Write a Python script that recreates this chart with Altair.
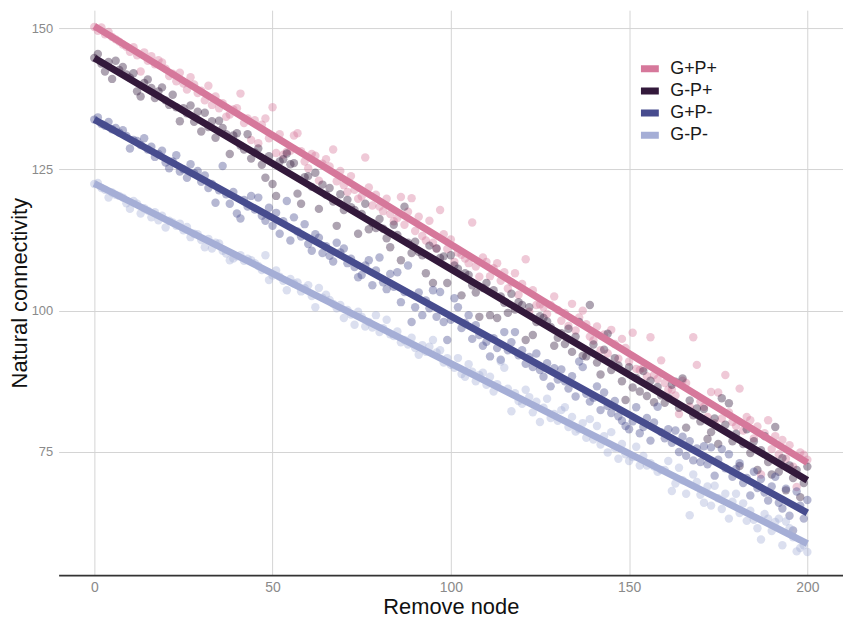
import altair as alt
import pandas as pd

groups = ["G+P+", "G-P+", "G+P-", "G-P-"]
colors = ["#D6789B", "#33193B", "#474C8E", "#A5AED6"]
x_vals = list(range(0, 201))
x_ticks = [0, 50, 100, 150, 200]
y_ticks = [75, 100, 125, 150]

gpp = [
    150.2, 149.5, 150.1, 148.9, 149.3, 148.4, 148.0, 147.6, 147.1, 146.7,
    145.8, 146.6, 145.2, 142.3, 145.7, 144.2, 145.0, 143.6, 144.3, 143.9,
    142.8, 141.5, 141.9, 140.6, 142.1, 140.2, 139.1, 141.3, 140.0, 138.5,
    138.9, 137.2, 139.8, 136.4, 137.9, 135.8, 136.7, 134.3, 134.7, 135.6,
    135.8, 138.4, 133.2, 134.0, 130.2, 133.7, 129.6, 132.9, 134.0, 130.5,
    136.0, 127.9, 131.2, 127.6, 128.1, 128.3, 131.0, 131.4, 128.2, 126.4,
    125.2, 127.7, 127.4, 123.0, 126.0, 126.8, 125.5, 128.5, 122.9, 124.7,
    122.2, 121.0, 123.8, 121.4, 119.8, 120.2, 127.1, 121.8, 118.6, 120.5,
    118.4, 117.6, 119.8, 117.1, 115.8, 116.4, 120.1, 115.2, 117.5, 119.9,
    114.1, 116.6, 113.2, 112.4, 115.9, 112.0, 111.0, 117.8, 113.5, 110.9,
    112.6, 108.6, 110.3, 109.9, 109.2, 108.4, 115.6, 107.8, 106.0, 109.4,
    108.6, 106.1, 107.5, 108.4, 105.3, 106.8, 103.9, 105.0, 106.6, 102.8,
    104.7, 109.1, 99.8, 103.6, 101.0, 101.1, 100.6, 99.4, 101.0, 102.5,
    100.1, 98.2, 99.6, 97.3, 101.2, 96.5, 98.8, 100.0, 97.6, 95.4,
    94.7, 97.2, 93.0, 95.8, 92.4, 96.6, 94.1, 91.5, 95.0, 93.4,
    91.0, 96.1, 89.7, 89.5, 89.8, 88.4, 95.3, 88.6, 87.9, 91.2,
    87.2, 86.0, 86.0, 85.0, 81.7, 87.6, 87.2, 83.0, 95.3, 90.4,
    83.9, 83.0, 81.2, 85.6, 80.1, 85.5, 80.9, 88.6, 82.0, 80.3,
    79.6, 86.2, 78.8, 81.2, 80.6, 77.4, 79.5, 71.0, 78.3, 80.6,
    75.5, 77.8, 74.6, 77.1, 73.8, 76.2, 72.4, 68.8, 74.9, 74.5,
    73.6,
]

gmp = [
    144.7, 145.4, 143.7, 142.3, 144.0, 141.0, 144.2, 142.6, 143.1, 141.8,
    141.2, 142.0, 138.8, 137.9, 140.3, 140.9, 139.4, 137.6, 138.8, 139.5,
    137.2, 136.4, 138.2, 136.0, 133.5, 135.8, 134.9, 136.3, 133.4, 135.2,
    131.7, 135.0, 132.5, 133.5, 130.6, 133.6, 132.3, 131.2, 127.7, 131.0,
    131.4, 129.2, 128.5, 131.2, 126.9, 128.0, 128.7, 125.8, 123.5, 127.3,
    122.4, 120.3, 126.4, 126.8, 127.8, 125.9, 126.1, 120.7, 118.9, 123.6,
    123.8, 121.9, 124.4, 118.0, 122.3, 120.5, 121.7, 119.3, 115.0, 120.6,
    117.8, 119.6, 118.3, 117.8, 113.6, 117.1, 118.9, 114.4, 115.5, 114.6,
    116.2, 114.5, 112.8, 111.2, 115.2, 113.4, 108.9, 118.4, 112.0, 110.2,
    112.2, 110.4, 109.8, 106.6, 111.5, 104.9, 111.0, 109.3, 109.6, 104.9,
    109.8, 108.0, 107.4, 102.7, 106.6, 106.3, 104.5, 103.2, 98.9, 104.0,
    104.9, 99.2, 103.6, 98.7, 102.5, 101.4, 99.6, 103.0, 100.2, 101.5,
    101.0, 94.8, 100.6, 95.7, 98.0, 99.0, 98.7, 98.1, 97.1, 93.8,
    95.2, 96.0, 94.1, 96.8, 92.7, 95.4, 98.0, 92.0, 91.9, 101.0,
    94.0, 90.8, 88.7, 93.1, 95.9, 89.5, 91.6, 90.3, 87.5, 84.2,
    90.0, 86.4, 88.1, 85.7, 89.3, 84.9, 87.6, 83.8, 86.5, 85.0,
    83.7, 84.6, 86.9, 87.4, 82.8, 88.0, 79.3, 84.1, 81.5, 82.7,
    80.4, 82.6, 77.3, 78.5, 80.9, 76.4, 84.5, 79.8, 83.6, 76.9,
    78.2, 72.5, 76.4, 79.0, 74.8, 76.9, 71.8, 75.3, 77.8, 73.2,
    71.0, 79.4, 71.5, 73.9, 68.2, 72.6, 70.4, 71.8, 67.0, 69.5,
    72.4,
]

gpm = [
    133.8, 134.2, 133.0, 132.7, 133.4, 132.1, 132.3, 131.5, 131.9, 130.9,
    128.7, 130.2, 130.0, 129.3, 130.5, 128.5, 129.0, 127.2, 127.7, 128.3,
    126.2, 125.2, 126.4, 127.5, 124.6, 125.0, 123.5, 125.9, 124.3, 124.7,
    122.8, 123.9, 121.7, 122.4, 119.1, 121.3, 125.6, 120.6, 118.9, 121.0,
    117.2, 116.3, 119.6, 118.4, 120.3, 117.9, 120.0, 116.8, 115.9, 118.2,
    115.0, 117.3, 113.6, 115.8, 119.4, 112.4, 116.5, 114.0, 113.1, 115.3,
    111.8, 110.6, 113.5, 112.9, 110.2, 111.4, 109.7, 108.7, 112.0, 110.3,
    111.0, 108.4, 109.2, 107.7, 105.9, 106.3, 108.0, 108.9, 104.5, 107.1,
    109.4, 105.0, 103.8, 106.5, 104.2, 106.8, 101.5, 103.3, 108.0, 98.0,
    100.6, 103.2, 99.2, 101.8, 100.4, 103.6, 98.9, 103.3, 98.0, 94.8,
    98.4, 102.2, 100.6, 96.9, 97.8, 99.2, 95.0, 97.4, 95.7, 93.8,
    94.5, 91.9, 95.1, 93.4, 91.3, 96.2, 93.0, 94.4, 96.2, 92.1,
    93.0, 90.6, 91.8, 90.0, 92.4, 89.5, 88.3, 90.7, 86.6, 89.8,
    87.8, 89.6, 87.5, 86.2, 88.4, 84.8, 91.0, 90.0, 85.3, 83.9,
    84.6, 86.6, 82.4, 85.5, 83.1, 81.9, 84.0, 81.3, 80.5, 79.6,
    79.0, 80.4, 82.9, 78.3, 79.4, 81.0, 77.0, 80.2, 83.0, 78.5,
    77.4, 79.0, 76.6, 78.8, 75.0, 77.7, 74.3, 76.9, 73.5, 75.6,
    73.2, 76.0, 72.8, 75.8, 70.8, 73.6, 75.5, 72.1, 74.6, 70.6,
    72.0, 73.0, 69.5, 70.4, 67.3, 71.5, 68.6, 70.2, 67.8, 66.4,
    68.9, 70.6, 66.0, 65.0, 68.5, 63.7, 61.1, 68.0, 65.5, 63.2,
    66.5,
]

gmm = [
    122.4, 122.6, 121.7, 121.4, 120.0, 120.9, 120.5, 120.3, 120.0, 119.0,
    118.0, 119.4, 118.9, 117.2, 118.1, 117.7, 116.5, 117.4, 116.0, 116.8,
    114.7, 115.9, 115.6, 115.0, 115.4, 114.2, 114.8, 113.0, 113.6, 113.5,
    112.5, 111.2, 112.7, 111.0, 112.0, 111.9, 110.6, 110.1, 108.9, 109.2,
    109.6, 109.8, 108.8, 109.2, 108.9, 108.4, 107.9, 107.2, 109.8, 105.4,
    106.2, 107.1, 106.0, 105.3, 103.6, 105.6, 104.8, 105.0, 103.4, 104.0,
    104.5, 102.6, 100.6, 104.0, 102.3, 102.8, 101.9, 101.2, 100.4, 101.0,
    98.7, 100.1, 99.3, 97.5, 99.8, 98.9, 97.2, 98.0, 97.0, 99.2,
    96.2, 96.9, 98.4, 95.8, 95.5, 96.3, 94.4, 94.8, 94.0, 95.2,
    93.4, 92.2, 93.9, 92.7, 93.6, 94.8, 92.6, 93.0, 90.8, 91.6,
    90.4, 89.9, 91.6, 88.8, 88.3, 90.5, 89.2, 87.5, 88.6, 89.0,
    86.9, 88.3, 85.7, 87.0, 91.0, 89.9, 86.2, 82.2, 85.4, 84.0,
    83.5, 86.0, 84.7, 82.0, 83.9, 80.3, 82.8, 84.4, 81.0, 81.7,
    80.5, 82.4, 82.9, 79.4, 81.2, 78.6, 79.0, 80.1, 77.5, 80.8,
    77.2, 79.6, 76.3, 77.8, 74.9, 78.5, 75.7, 73.8, 76.4, 74.6,
    73.4, 74.1, 75.9, 72.6, 74.3, 72.6, 73.0, 72.4, 71.5, 71.8,
    71.8, 73.4, 68.1, 69.4, 72.2, 70.0, 67.6, 63.8, 71.0, 69.7,
    67.4, 66.0, 68.9, 65.5, 69.0, 66.8, 64.9, 67.6, 63.2, 66.2,
    67.6, 64.2, 65.9, 62.8, 64.6, 63.0, 61.5, 59.5, 64.0, 63.2,
    61.0, 62.6, 63.2, 58.5, 62.7, 61.5, 59.9, 57.4, 58.0, 58.5,
    57.3,
]

series = {"G+P+": gpp, "G-P+": gmp, "G+P-": gpm, "G-P-": gmm}
rows = []
for g in groups:
    for xv, yv in zip(x_vals, series[g]):
        rows.append({"node": xv, "conn": yv, "group": g})
df = pd.DataFrame(rows)

xenc = alt.X(
    "node:Q",
    scale=alt.Scale(domain=[-10, 210], nice=False, zero=False),
    axis=alt.Axis(
        values=x_ticks, title="Remove node", grid=True, ticks=False,
        domain=True, domainColor="#333333", domainWidth=2,
        labelFont="Liberation Sans", labelFontSize=14, labelColor="#8a8a8a",
        labelPadding=5,
        titleFont="Liberation Sans", titleFontSize=22, titleFontWeight="normal",
        titleColor="#111111", titlePadding=3,
    ),
)
yenc = alt.Y(
    "conn:Q",
    scale=alt.Scale(domain=[53.2, 153.16], nice=False, zero=False),
    axis=alt.Axis(
        values=y_ticks, title="Natural connectivity", grid=True, ticks=False,
        domain=False,
        labelFont="Liberation Sans", labelFontSize=13, labelColor="#8a8a8a",
        labelPadding=6,
        titleFont="Liberation Sans", titleFontSize=22, titleFontWeight="normal",
        titleColor="#111111", titlePadding=0,
    ),
)
cscale = alt.Scale(domain=groups, range=colors)

points = alt.Chart(df).mark_circle(size=72, opacity=0.4).encode(
    x=xenc,
    y=yenc,
    color=alt.Color("group:N", scale=cscale, legend=None),
)

lines = alt.Chart(df).transform_regression(
    "node", "conn", groupby=["group"]
).mark_line(strokeWidth=7).encode(
    x=alt.X("node:Q"),
    y=alt.Y("conn:Q"),
    color=alt.Color(
        "group:N", scale=cscale, sort=groups,
        legend=alt.Legend(
            title=None, orient="none", legendX=583, legendY=50,
            symbolType="stroke", symbolSize=324, symbolStrokeWidth=7,
            clipHeight=18,
            labelFont="Liberation Sans", labelFontSize=18, labelColor="#1a1a1a",
            labelOffset=8, rowPadding=4.3, padding=0,
        ),
    ),
)

chart = alt.layer(points, lines).resolve_legend(color="independent").properties(
    width=790, height=569, padding=0
).configure_view(strokeWidth=0).configure_axis(
    gridColor="#d4d4d4", gridWidth=1
)

chart.save("out.html", embed_options={"renderer": "svg", "actions": False})
